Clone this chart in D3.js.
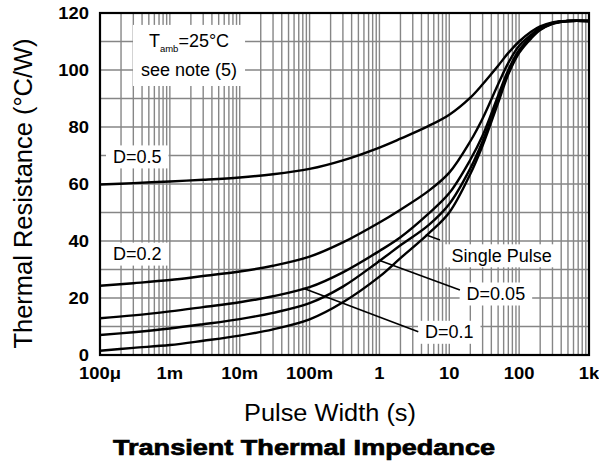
<!DOCTYPE html>
<html><head><meta charset="utf-8">
<script src="https://cdn.jsdelivr.net/npm/d3@7"></script>
<style>
body{margin:0;background:#fff}
svg{display:block}
text{font-family:Arial,"Liberation Sans",sans-serif;fill:#000}
</style>
</head><body>
<svg id="chart" width="599" height="466"></svg>
<script>
// ---- data ----
const pulseWidth = [1e-4,3e-4,1e-3,3e-3,1e-2,3e-2,0.1,0.3,1,2,5,10,20,30,50,70,100,150,200,300,500,1000];
const d05    = [59.8,60.3,60.9,61.5,62.3,63.4,65.3,68.3,72.8,75.9,80.3,84.3,90.3,95,101.5,106,110,113.5,115.3,116.7,117.2,117.2];
const d02    = [24.3,25.2,26.3,27.7,29.3,31.3,34.5,39.5,46.5,51,57.5,64,75,83,95,102.5,108.5,112.5,114.8,116.5,117.2,117.2];
const d01    = [12.9,13.9,15.3,16.8,18.5,20.6,23.8,29,36.5,41.3,49.5,56.8,68.5,77,91,100,107,111.8,114.4,116.4,117.2,117.2];
const d005   = [7.0,8.0,9.3,10.8,12.6,14.8,18.2,24,33,38.5,45.5,53,65.5,75,89.5,99,106.5,111.5,114.2,116.3,117.2,117.2];
const single = [1.5,2.5,3.5,5,6.8,9,12.5,18.5,27.5,34,42.5,50,63.5,73.5,88.5,98.5,106,111.2,114,116.2,117.2,117.2];
const seriesNames = ["D=0.5","D=0.2","D=0.1","D=0.05","Single Pulse"];
const seriesValues = [d05,d02,d01,d005,single];

const xTickValues = [1e-4,1e-3,1e-2,1e-1,1,10,100,1000];
const xTickLabels = ["100μ","1m","10m","100m","1","10","100","1k"];
const yTickValues = [0,20,40,60,80,100,120];

// annotation anchors in data units: [pulse width, thermal resistance]
const labelAnchors = [
  {text:"D=0.5", at:[1.535e-4,67.4]},
  {text:"D=0.2", at:[1.535e-4,33.3]},
  {text:"Single Pulse", at:[10.8,32.7]},
  {text:"D=0.05", at:[17.7,19.3]},
  {text:"D=0.1", at:[4.49,5.86]}
];
const leaders = [
  [[4.6,42.2],[7.36,40.35]],
  [[0.964,33.3],[14.2,22.8]],
  [[0.0813,23.4],[3.6,8.2]]
];
const noteAnchor = [1.88e-3, 108.1, 97.9];

// ---- layout ----
const L=100,R=589,T=13,B=355;
const svg = d3.select("#chart");
const x = d3.scaleLog().domain([1e-4,1e3]).range([L,R]);
const y = d3.scaleLinear().domain([0,120]).range([B,T]);

// grid
const vGrid=[];
for(let k=-4;k<3;k++) for(let m=1;m<10;m++) vGrid.push(m*Math.pow(10,k));
vGrid.push(1000);
const g = svg.append("g").attr("stroke","#868686").attr("stroke-width",1.4);
g.selectAll("line.v").data(vGrid).join("line")
  .attr("x1",d=>x(d)).attr("x2",d=>x(d)).attr("y1",T).attr("y2",B);
g.selectAll("line.h").data(d3.range(0,121,10)).join("line")
  .attr("x1",L).attr("x2",R).attr("y1",d=>y(d)).attr("y2",d=>y(d));

// label boxes + labels
const boxLayer = svg.append("g");
const textLayer = svg.append("g");
function boxed(sel, padX, padY){
  const b = sel.node().getBBox();
  boxLayer.append("rect").attr("x",b.x-padX).attr("y",b.y-padY)
    .attr("width",b.width+2*padX).attr("height",b.height+2*padY).attr("fill","#fff");
}
labelAnchors.forEach(a=>{
  const t = textLayer.append("text").attr("x",x(a.at[0])).attr("y",y(a.at[1]))
    .attr("font-size",18).text(a.text);
  boxed(t,7,1.5);
});
// note box
const note = textLayer.append("g");
const t1 = note.append("text").attr("x",x(noteAnchor[0])).attr("y",y(noteAnchor[1]))
  .attr("text-anchor","middle").attr("font-size",18);
t1.append("tspan").text("T");
t1.append("tspan").attr("font-size",9.5).attr("dy",5).text("amb");
t1.append("tspan").attr("dy",-5).text("=25°C");
note.append("text").attr("x",x(noteAnchor[0])).attr("y",y(noteAnchor[2]))
  .attr("text-anchor","middle").attr("font-size",18).text("see note (5)");
boxed(note,8,6);

// curves
const line = d3.line().x(d=>x(d[0])).y(d=>y(d[1])).curve(d3.curveCatmullRom.alpha(0.5));
svg.append("g").selectAll("path").data(seriesValues).join("path")
  .attr("d",vals=>line(pulseWidth.map((p,i)=>[p,vals[i]])))
  .attr("fill","none").attr("stroke","#000").attr("stroke-width",2.4)
  .attr("stroke-linejoin","round");

// leaders
svg.append("g").selectAll("line").data(leaders).join("line")
  .attr("x1",d=>x(d[0][0])).attr("y1",d=>y(d[0][1]))
  .attr("x2",d=>x(d[1][0])).attr("y2",d=>y(d[1][1]))
  .attr("stroke","#000").attr("stroke-width",1.6);

svg.node().appendChild(textLayer.node());

// frame
svg.append("rect").attr("x",L).attr("y",T).attr("width",R-L).attr("height",B-T)
  .attr("fill","none").attr("stroke","#000").attr("stroke-width",2.2);

// ticks
svg.append("g").selectAll("text").data(yTickValues).join("text")
  .attr("transform",d=>`translate(89,${y(d)+6}) scale(1.15,1)`)
  .attr("text-anchor","end").attr("font-size",16).attr("font-weight","bold").text(d=>d);
svg.append("g").selectAll("text").data(xTickValues).join("text")
  .attr("transform",d=>`translate(${x(d)},${378.5}) scale(1.15,1)`)
  .attr("text-anchor","middle").attr("font-size",16).attr("font-weight","bold")
  .text((d,i)=>xTickLabels[i]);

// axis titles
svg.append("text").attr("x",330).attr("y",421).attr("text-anchor","middle")
  .attr("font-size",23).attr("textLength",172).attr("lengthAdjust","spacingAndGlyphs")
  .text("Pulse Width (s)");
svg.append("text").attr("transform","translate(32,193.5) rotate(-90) scale(1,1.15)")
  .attr("text-anchor","middle").attr("font-size",23)
  .attr("textLength",310).attr("lengthAdjust","spacingAndGlyphs")
  .text("Thermal Resistance (°C/W)");
svg.append("text").attr("x",304).attr("y",455).attr("text-anchor","middle")
  .attr("font-size",22).attr("font-weight","bold")
  .attr("stroke","#000").attr("stroke-width",0.7)
  .attr("textLength",382).attr("lengthAdjust","spacingAndGlyphs")
  .text("Transient Thermal Impedance");
</script>
</body></html>
